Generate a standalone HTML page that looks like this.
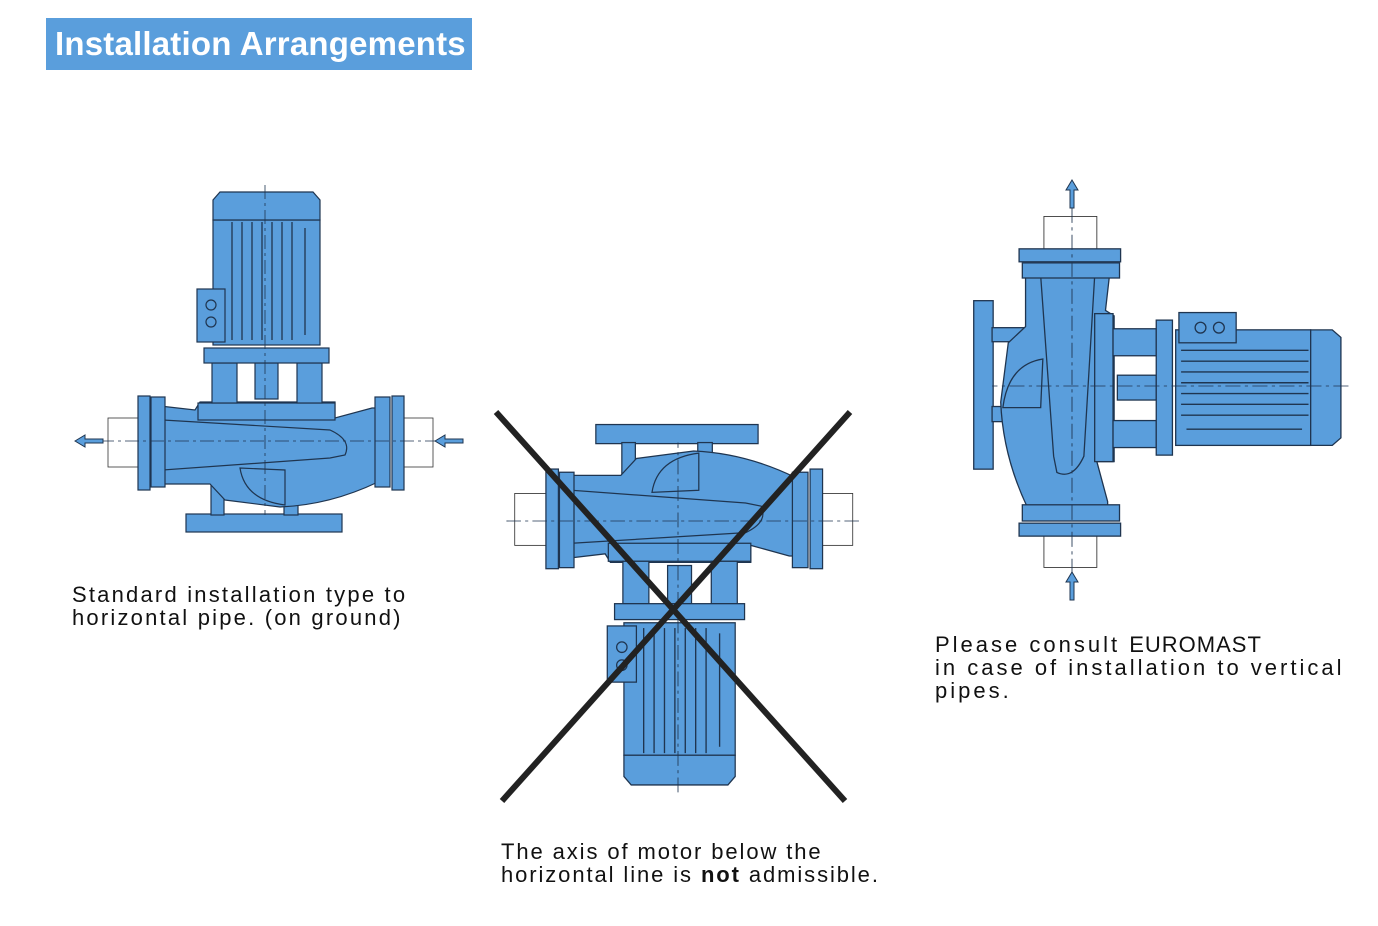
<!DOCTYPE html>
<html><head><meta charset="utf-8"><style>
body{margin:0;background:#fff;width:1378px;height:926px;overflow:hidden;position:relative;font-family:"Liberation Sans",sans-serif}
.hd{position:absolute;left:46px;top:18px;width:426px;height:52px;background:#5a9edc;color:#fff;font-size:33px;font-weight:bold;line-height:52px;text-indent:9px;letter-spacing:0.2px}
.t{position:absolute;font-size:22px;line-height:23px;color:#111;letter-spacing:1.3px}
svg{position:absolute;left:0;top:0}
</style></head><body>
<div class="hd">Installation Arrangements</div>
<svg width="1378" height="926" viewBox="0 0 1378 926">
<defs>
<g id="pump" stroke="#1f3550" stroke-width="1.2" fill="#5a9edc">
 <rect x="108" y="418" width="32" height="49" fill="#fff" stroke="#333" stroke-width="0.8"/>
 <rect x="401" y="418" width="32" height="49" fill="#fff" stroke="#333" stroke-width="0.8"/>
 <rect x="186" y="514" width="156" height="18"/>
 <rect x="211" y="460" width="13" height="55"/>
 <rect x="284" y="460" width="14" height="55"/>
 <path d="M160 406 L195 410 L200 402 L335 402 L335 418 L372 408 L378 408 L378 482 Q330 505 280 507 L225 500 L210 484 L160 484 Z"/>
 <path d="M163 420 L330 430 Q352 440 345 455 L330 458 L163 470 Z" fill="#5a9edc"/>
 <path d="M240 468 Q245 500 285 505 L285 470 Z" fill="#5a9edc"/>
 <rect x="138" y="396" width="12" height="94"/>
 <rect x="151" y="397" width="14" height="90"/>
 <rect x="375" y="397" width="15" height="90"/>
 <rect x="392" y="396" width="12" height="94"/>
 <rect x="198" y="403" width="137" height="17"/>
 <rect x="212" y="363" width="25" height="40"/>
 <rect x="297" y="363" width="25" height="40"/>
 <rect x="255" y="363" width="23" height="36"/>
 <rect x="204" y="348" width="125" height="15"/>
 <rect x="213" y="220" width="107" height="125"/>
 <path d="M213 220 L213 200 L220 192 L313 192 L320 200 L320 220 Z"/>
 <rect x="197" y="289" width="28" height="53"/>
 <circle cx="211" cy="305" r="5" fill="none"/>
 <circle cx="211" cy="322" r="5" fill="none"/>
 <g stroke-width="1.3">
  <line x1="232" y1="222" x2="232" y2="340"/><line x1="242" y1="222" x2="242" y2="340"/>
  <line x1="252" y1="222" x2="252" y2="340"/><line x1="262" y1="222" x2="262" y2="340"/>
  <line x1="272" y1="222" x2="272" y2="340"/><line x1="282" y1="222" x2="282" y2="340"/>
  <line x1="292" y1="222" x2="292" y2="340"/><line x1="305" y1="228" x2="305" y2="335"/>
 </g>
 <line x1="265" y1="185" x2="265" y2="515" stroke-width="0.8" stroke-dasharray="14 4 3 4"/>
 <line x1="100" y1="441" x2="440" y2="441" stroke-width="0.8" stroke-dasharray="14 4 3 4"/>
</g>
<path id="arr" d="M0 0 L10 -6 L10 -2 L28 -2 L28 2 L10 2 L10 6 Z" fill="#5a9edc" stroke="#1f3550" stroke-width="1"/>
</defs>
<use href="#pump"/>
<use href="#arr" transform="translate(75,441)"/>
<use href="#arr" transform="translate(435,441)"/>
<use href="#pump" transform="translate(678,521) scale(1.04,-1.06) translate(-265,-441)"/>
<use href="#pump" transform="translate(1072,386) rotate(90) scale(1.08) translate(-265,-441)"/>
<use href="#arr" transform="translate(1072,180) rotate(90)"/>
<use href="#arr" transform="translate(1072,572) rotate(90)"/>
<g stroke="#222" stroke-width="6" stroke-linecap="butt">
 <line x1="496" y1="412" x2="845" y2="801"/>
 <line x1="850" y1="412" x2="502" y2="801"/>
</g>
</svg>
<div class="t" style="left:72px;top:583px;letter-spacing:2.2px">Standard installation type to<br>horizontal pipe. (on ground)</div>
<div class="t" style="left:935px;top:633px;letter-spacing:3px">Please consult <span style="letter-spacing:1px">EUROMAST</span><br>in case of installation to vertical<br>pipes.</div>
<div class="t" style="left:501px;top:840px;letter-spacing:1.9px">The axis of motor below the<br>horizontal line is <b>not</b> admissible.</div>
</body></html>
